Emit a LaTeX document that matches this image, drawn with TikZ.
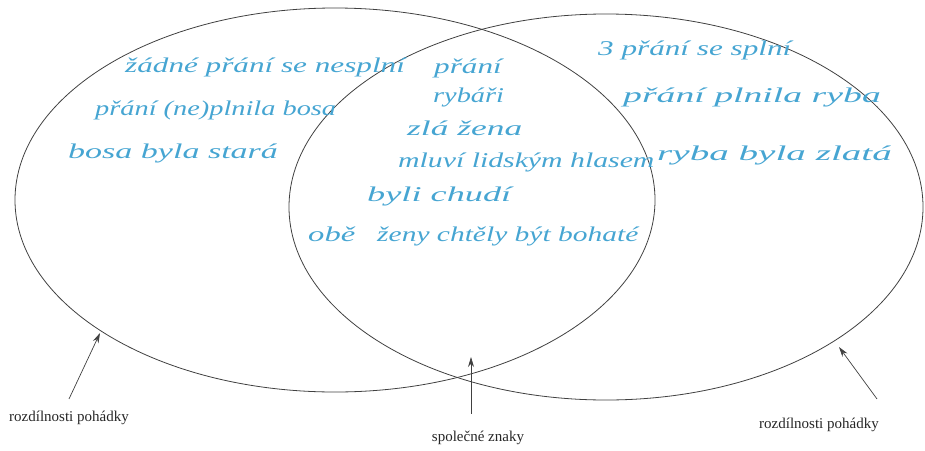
\documentclass[tikz,border=0pt]{standalone}
\usepackage{fontspec}
\setmainfont{Liberation Serif}
\newfontfamily\handfont[FakeStretch=1.35]{Liberation Serif}
\usetikzlibrary{arrows.meta}
\definecolor{ink}{RGB}{70,165,210}

\begin{document}
\begin{tikzpicture}[x=1pt,y=-1pt,
  hand/.style={anchor=base west, inner sep=0pt, text=ink, font=\handfont\itshape\fontsize{21}{21}\selectfont},
  note/.style={inner sep=0pt, text=black!85, font=\fontsize{15}{15}\selectfont},
  pointer/.style={-{Stealth[length=10pt,width=6pt]}, black!75, line width=0.7pt}]
  \useasboundingbox (0,0) rectangle (925,450);
  \draw[black!75, line width=0.8pt] (335,200) ellipse [x radius=320, y radius=192];
  \draw[black!75, line width=0.8pt] (606,207) ellipse [x radius=317, y radius=193];

  \node[hand] (l1) at (125,72) {\scalebox{1.1}[1]{žádné přání se nesplní}};
  \node[hand] (l2) at (95,115) {přání (ne)plnila bosa};
  \node[hand] (l3) at (68,158) {\scalebox{1.2}[1]{bosa byla stará}};

  \node[hand] (m1) at (434,73) {\scalebox{1.1}[1]{přání}};
  \node[hand] (m2) at (433,102) {rybáři};
  \node[hand] (m3) at (407,135) {\scalebox{1.25}[1]{zlá žena}};
  \node[hand] (m4) at (398,167) {\scalebox{1.05}[1]{mluví lidským hlasem}};
  \node[hand] (m5) at (367,201) {\scalebox{1.28}[1]{byli chudí}};
  \node[hand] (m6) at (308,241) {\scalebox{1.15}[1]{obě}};
  \node[hand] (m7) at (377,241) {\scalebox{1.04}[1]{ženy chtěly být bohaté}};

  \node[hand] (r1) at (598,55) {\scalebox{1.1}[1]{3 přání se splní}};
  \node[hand] (r2) at (623,102) {\scalebox{1.33}[1]{přání plnila ryba}};
  \node[hand] (r3) at (657,160) {\scalebox{1.38}[1]{ryba byla zlatá}};

  \node[note] (difL) at (69,418) {rozdílnosti pohádky};
  \node[note] (same) at (478,438) {společné znaky};
  \node[note] (difR) at (819,425) {rozdílnosti pohádky};

  \coordinate (tipL) at (100,333);
  \coordinate (tipM) at (471,357);
  \coordinate (tipR) at (839,347);
  \draw[pointer] ([yshift=12pt]difL.north) -- (tipL);
  \draw[pointer] ([xshift=-7pt,yshift=17pt]same.north) -- (tipM);
  \draw[pointer] ([xshift=58pt,yshift=19pt]difR.north) -- (tipR);
\end{tikzpicture}
\end{document}
